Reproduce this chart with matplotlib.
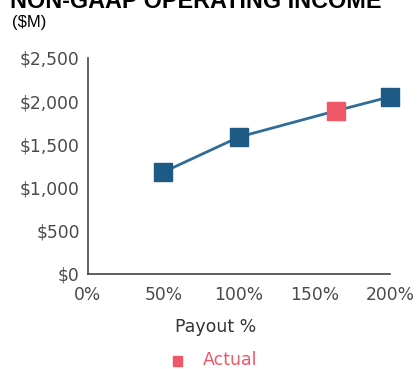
import numpy as np
import matplotlib.pyplot as plt
from matplotlib.ticker import FuncFormatter

# Curva de pago: ingreso operativo non-GAAP ($M) vs. % de pago
payout = [50, 100, 200]
income = [1180, 1585, 2050]
actual_payout = [164]
actual_income = [1887]

x_ticks = [0, 50, 100, 150, 200]
y_ticks = [0, 500, 1000, 1500, 2000, 2500]

blue = '#1d5a86'
red = '#ee5868'
gray = '#4a4a4a'

plt.rcParams['font.family'] = ['DejaVu Sans']

fig = plt.figure(figsize=(4.17, 3.69), dpi=100)
ax = fig.add_axes([0.211, 0.2575, 0.724, 0.5854])

# línea de la curva pasando por el punto actual
curve_x = sorted(payout + actual_payout)
curve_y = sorted(income + actual_income)
ax.plot(curve_x, curve_y, color='#2f6d98', lw=2, zorder=2)
ax.plot(payout, income, ls='none', marker='s', ms=12.5, color=blue,
        zorder=3, clip_on=False)
ax.plot(actual_payout, actual_income, ls='none', marker='s', ms=12.5,
        color=red, zorder=4, clip_on=False)

ax.set_xlim(0, 200)
ax.set_ylim(0, 2500)
ax.set_xticks(x_ticks)
ax.set_yticks(y_ticks)
ax.xaxis.set_major_formatter(FuncFormatter(lambda v, p: '{:.0f}%'.format(v)))
ax.yaxis.set_major_formatter(FuncFormatter(lambda v, p: '${:,.0f}'.format(v)))
ax.tick_params(length=0, labelsize=12.3, labelcolor=gray)
ax.tick_params(axis='y', pad=6)
ax.tick_params(axis='x', pad=9)
for s in ['top', 'right']:
	ax.spines[s].set_visible(False)
for s in ['left', 'bottom']:
	ax.spines[s].set_color('#444444')
	ax.spines[s].set_linewidth(1.2)

fig.text(0.024, 0.978, 'NON-GAAP OPERATING INCOME', fontsize=16.8,
         fontweight='bold', family='Liberation Sans', va='baseline',
         color='black')
fig.text(0.029, 0.938, '($M)', fontsize=12, family='Liberation Sans',
         va='center', color='black')
fig.text(0.518, 0.114, 'Payout %', fontsize=12.5, color='#333333',
         ha='center', va='center')

# leyenda
fig.patches.append(plt.Rectangle((0.415, 0.008), 0.0216, 0.027,
                   transform=fig.transFigure, color=red, figure=fig))
fig.text(0.487, 0.024, 'Actual', fontsize=12.5, color=red, va='center')

fig.savefig('out.png', dpi=100)
